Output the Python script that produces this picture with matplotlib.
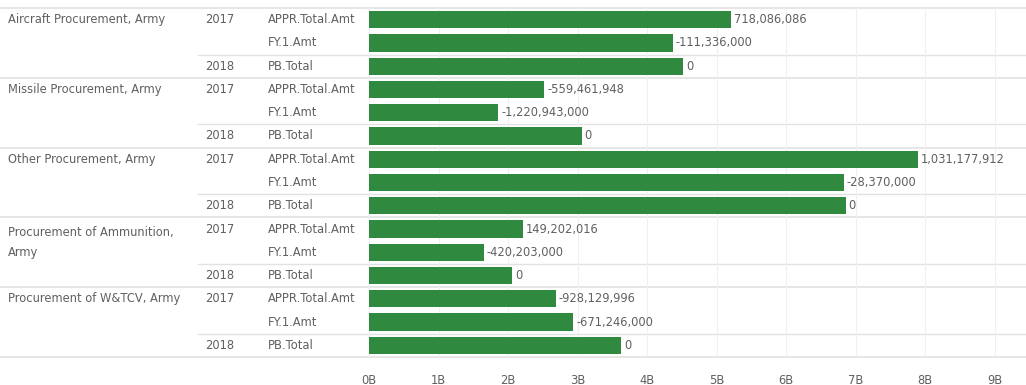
import matplotlib
matplotlib.use('Agg')
import matplotlib.pyplot as plt
import matplotlib.transforms as mtransforms
import numpy as np

# Data
categories = ["Aircraft Procurement, Army", "Missile Procurement, Army",
              "Other Procurement, Army", "Procurement of Ammunition,\nArmy",
              "Procurement of W&TCV, Army"]
years = ["2017", "2017", "2018"]
measures = ["APPR.Total.Amt", "FY.1.Amt", "PB.Total"]

# bar lengths, in billions (axis scale)
bar_values = [5.21, 4.37, 4.52,
              2.52, 1.86, 3.06,
              7.90, 6.83, 6.86,
              2.22, 1.65, 2.06,
              2.69, 2.94, 3.63]

# text shown at the end of each bar
bar_labels = ["718,086,086", "-111,336,000", "0",
              "-559,461,948", "-1,220,943,000", "0",
              "1,031,177,912", "-28,370,000", "0",
              "149,202,016", "-420,203,000", "0",
              "-928,129,996", "-671,246,000", "0"]

x_ticks = list(range(0, 10))
x_ticklabels = ["%dB" % t for t in x_ticks]

W, H = 1026, 385
green = '#2f8a3f'
txt = '#606060'
line_c = '#e2e2e2'
fs = 8.3

fig = plt.figure(figsize=(W / 100, H / 100), dpi=100)
ax = fig.add_axes([365 / W, (H - 357) / H, (W - 365) / W, (357 - 8) / H])

n = len(bar_values)
rows = np.arange(n)
ax.barh(rows, bar_values, height=0.74, color=green, zorder=3)

for r, v, lab in zip(rows, bar_values, bar_labels):
    ax.text(v + 0.04, r, lab, va='center', ha='left', fontsize=fs, color=txt, zorder=4)

ax.set_ylim(n - 0.5, -0.5)
ax.set_xlim(-0.058, 9.45)
ax.set_yticks([])
ax.set_xticks(x_ticks)
ax.set_xticklabels(x_ticklabels, fontsize=fs, color=txt)
ax.tick_params(axis='x', length=0, pad=12)
ax.grid(axis='x', color='#f0f0f0', linewidth=0.8, zorder=0)
for s in ['top', 'right', 'left', 'bottom']:
    ax.spines[s].set_visible(False)

# header columns, x in figure coords, y in data rows
tr = mtransforms.blended_transform_factory(fig.transFigure, ax.transData)

for i, cat in enumerate(categories):
    r0 = i * 3
    parts = cat.split("\n")
    if len(parts) > 1:
        ax.text(8 / W, r0 + 0.14, parts[0], transform=tr, ha='left', va='center',
                fontsize=fs, color=txt, clip_on=False)
        ax.text(8 / W, r0 + 1.0, parts[1], transform=tr, ha='left', va='center',
                fontsize=fs, color=txt, clip_on=False)
    else:
        ax.text(8 / W, r0, cat, transform=tr, ha='left', va='center',
                fontsize=fs, color=txt, clip_on=False)
    # year labels
    ax.text(205 / W, r0, years[0], transform=tr, ha='left', va='center',
            fontsize=fs, color=txt, clip_on=False)
    ax.text(205 / W, r0 + 2, years[2], transform=tr, ha='left', va='center',
            fontsize=fs, color=txt, clip_on=False)
    for j, m in enumerate(measures):
        ax.text(268 / W, r0 + j, m, transform=tr, ha='left', va='center',
                fontsize=fs, color=txt, clip_on=False)
    # 2017 / 2018 divider
    ax.plot([198 / W, 1.0], [r0 + 1.5, r0 + 1.5], transform=tr, color=line_c,
            linewidth=1.0, clip_on=False, zorder=1)

# category dividers, top and bottom
for y in [-0.5, 2.5, 5.5, 8.5, 11.5, 14.5]:
    ax.plot([0, 1.0], [y, y], transform=tr, color=line_c, linewidth=1.2,
            clip_on=False, zorder=1)

plt.savefig('out.png', dpi=100)
